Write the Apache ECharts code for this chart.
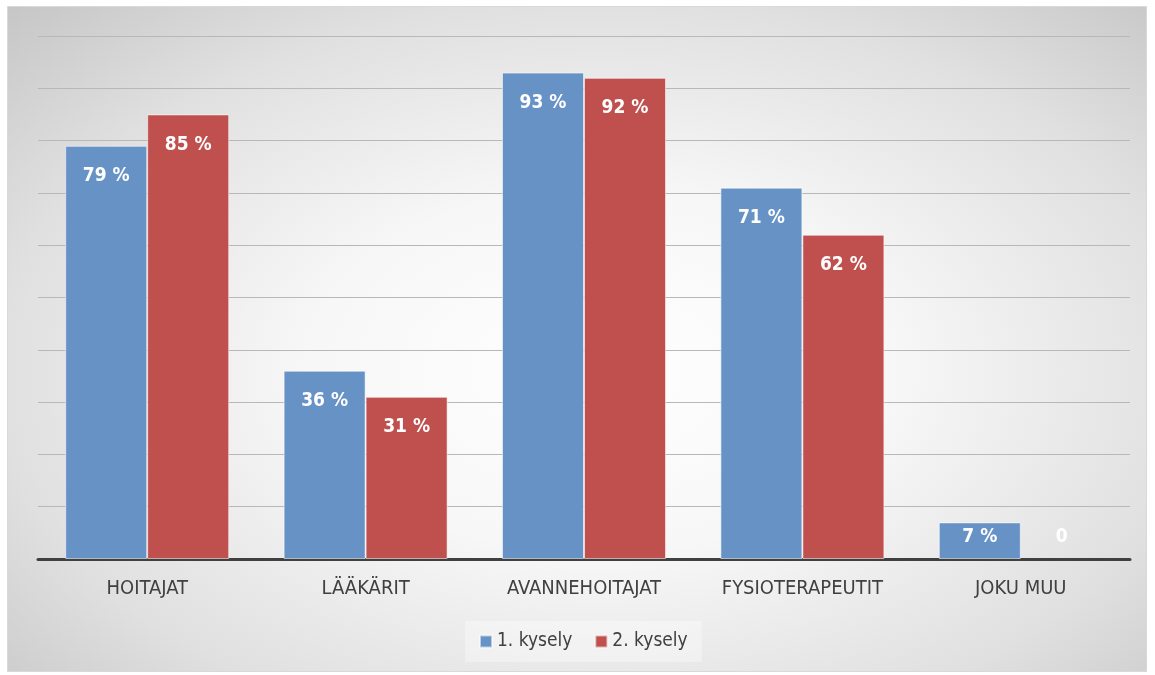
<!DOCTYPE html>
<html>
<head>
<meta charset="utf-8">
<script src="https://cdn.jsdelivr.net/npm/echarts@6/dist/echarts.min.js"></script>
<style>
  html, body { margin: 0; padding: 0; background: #ffffff; }
  #chart {
    position: absolute; left: 7px; top: 6px;
    width: 1140px; height: 666px;
    box-sizing: border-box; border: 1px solid #d9d9d9;
    background: radial-gradient(ellipse farthest-corner at 52% 55%,
      #ffffff 0%, #f7f7f7 35%, #e0e0e0 72%, #c6c6c6 100%);
  }
</style>
</head>
<body>
<div id="chart"></div>
<script>
// Survey answers: share of respondents per professional group
const categories = ['HOITAJAT', 'LÄÄKÄRIT', 'AVANNEHOITAJAT', 'FYSIOTERAPEUTIT', 'JOKU MUU'];
const seriesNames = ['1. kysely', '2. kysely'];
const survey1 = [79, 36, 93, 71, 7];
const survey2 = [85, 31, 92, 62, 0];
const yTicks = { min: 0, max: 100, interval: 10 };

const condensed = "'DejaVu Sans Condensed', 'Liberation Sans Narrow', 'Liberation Sans', sans-serif";

function toData(values) {
  return values.map(v => {
    if (v === 0) {
      // no bar at all: the label sits just above the axis
      return { value: v, itemStyle: { borderWidth: 0 }, label: { position: 'top', distance: 12 } };
    }
    if (v < 10) {
      // short bar: pull the label up to the bar's top edge
      return { value: v, label: { distance: 5 } };
    }
    return v;
  });
}

const barLabel = {
  show: true,
  position: 'insideTop',
  distance: 21,
  color: '#ffffff',
  fontFamily: condensed,
  fontWeight: 'bold',
  fontSize: 19,
  formatter: p => (p.value === 0 ? '0' : p.value + ' %')
};

const chart = echarts.init(document.getElementById('chart'));
chart.setOption({
  backgroundColor: 'transparent',
  animation: false,
  grid: { left: 30, right: 16, top: 29, bottom: 112, containLabel: false },
  legend: {
    data: seriesNames,
    icon: 'rect',
    bottom: 9,
    left: 457,
    itemWidth: 12,
    itemHeight: 12,
    itemGap: 22,
    padding: [11, 14],
    backgroundColor: 'rgba(255,255,255,0.35)',
    textStyle: { fontFamily: condensed, fontSize: 19, color: '#404040' }
  },
  xAxis: {
    type: 'category',
    data: categories,
    axisLine: { lineStyle: { color: '#404040', width: 3 } },
    axisTick: { show: false },
    axisLabel: { interval: 0, margin: 20, fontFamily: condensed, fontSize: 20, color: '#404040' }
  },
  yAxis: {
    type: 'value',
    min: yTicks.min, max: yTicks.max, interval: yTicks.interval,
    axisLabel: { show: false },
    axisLine: { show: false },
    axisTick: { show: false },
    splitLine: { lineStyle: { color: '#b8b8b8', width: 1 } }
  },
  series: [
    {
      name: seriesNames[0], type: 'bar', data: toData(survey1),
      barWidth: 82, barGap: '0%',
      itemStyle: { color: '#6792c6', borderColor: 'rgba(255,255,255,0.55)', borderWidth: 1 },
      label: barLabel
    },
    {
      name: seriesNames[1], type: 'bar', data: toData(survey2),
      barWidth: 82, barGap: '0%',
      itemStyle: { color: '#c0504d', borderColor: 'rgba(255,255,255,0.55)', borderWidth: 1 },
      label: barLabel
    }
  ]
});
</script>
</body>
</html>
